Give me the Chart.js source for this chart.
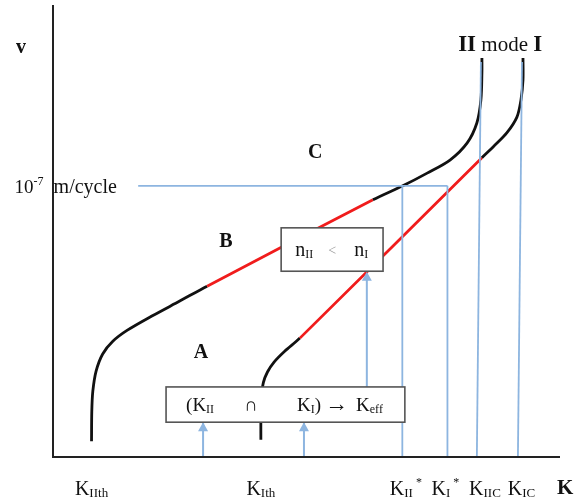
<!DOCTYPE html>
<html>
<head>
<meta charset="utf-8">
<script src="https://cdn.jsdelivr.net/npm/chart.js@4.4.1/dist/chart.umd.min.js"></script>
<style>
  body { margin: 0; background: #fff; }
  #chart { display: block; }
</style>
</head>
<body>
<canvas id="chart" width="578" height="501"></canvas>
<script>
// ---------- DATA (K on x, log v on y, arbitrary 0..100 units) ----------
const modeIIThreshold = [[7.6,3.5],[7.65,10],[7.85,14.5],[8.5,19],[9.8,22.8],[11.8,25.6],[14.6,28],[19.7,31.3],[25,34.5]];
const modeIIParis = [[30.4,37.8],[63.1,56.9]];
const modeIIUnstable = [[69,60],[73.8,62.8],[78.3,65.7],[81.7,69.5],[83.6,73.9],[84.4,79],[84.6,85],[84.6,88.3]];

const modeIThreshold = [[41,3.8],[41,8],[41.1,13],[41.5,16.5],[42.3,18.8],[43.6,21],[45.7,23.4]];
const modeIParis = [[48.7,26.3],[84.6,66.2]];
const modeIUnstable = [[86.8,68.6],[89.5,71.7],[91.5,75.2],[92.3,79],[92.7,83.4],[92.7,88.3]];

const vRef = 60;                       // 10^-7 m/cycle
const kStarII = 68.9, kStarI = 77.8;
const kIIC = [[83.6,0],[84.4,87.4]];
const kIC = [[91.7,0],[92.5,87.4]];

const tickLabels = [
  { x: 7.6,  sub: "IIth", sup: "" },
  { x: 41.0, sub: "Ith",  sup: "" },
  { x: 69.6, sub: "II",   sup: "*" },
  { x: 77.4, sub: "I",    sup: "*" },
  { x: 85.2, sub: "IIC",  sup: "" },
  { x: 92.4, sub: "IC",   sup: "" }
];

const arrows = [
  [[29.6,0],[29.6,7.7]],
  [[49.5,0],[49.5,7.7]],
  [[61.9,15.5],[61.9,41]]
];

const boxA = { x0: 22.3, x1: 69.4, y0: 7.7, y1: 15.5 };
const boxN = { x0: 45.0, x1: 65.1, y0: 41.1, y1: 50.7 };

// ---------- HELPERS ----------
const toPts = arr => arr.map(p => ({ x: p[0], y: p[1] }));
const BLACK = "#111111", RED = "#f01c1c", BLUE = "#8db5e0";
const SERIF = "'Liberation Serif', 'Times New Roman', serif";

function line(data, color, width, extra) {
  return Object.assign({
    data: toPts(data),
    showLine: true,
    borderColor: color,
    borderWidth: width,
    pointRadius: 0,
    tension: 0,
    fill: false
  }, extra || {});
}

// one smooth curve per mode, the Paris part coloured red
function modeCurve(threshold, paris, unstable) {
  const redFrom = threshold.length, redTo = threshold.length + paris.length - 1;
  const pts = threshold.concat(paris, unstable);
  return line(pts, BLACK, 2.8, {
    tension: 0.3,
    borderJoinStyle: "round",
    segment: {
      borderColor: c => (c.p0DataIndex >= redFrom && c.p1DataIndex <= redTo) ? RED : BLACK
    }
  });
}

const datasets = [
  line([[16.8, vRef],[kStarI, vRef]], BLUE, 1.8),
  line([[kStarII, 0],[kStarII, vRef]], BLUE, 1.8),
  line([[kStarI, 0],[kStarI, vRef]], BLUE, 1.8),
  line(kIIC, BLUE, 1.8),
  line(kIC, BLUE, 1.8),
  modeCurve(modeIIThreshold, modeIIParis, modeIIUnstable),
  modeCurve(modeIThreshold, modeIParis, modeIUnstable)
];
arrows.forEach(a => datasets.push(line(a, BLUE, 2, { arrow: true })));

// draws a run of text pieces; each piece {t, size, bold, dy, color}
function drawParts(ctx, x, y, parts, align) {
  let w = 0;
  parts.forEach(p => {
    ctx.font = (p.bold ? "bold " : "") + p.size + "px " + SERIF;
    p.w = ctx.measureText(p.t).width;
    w += p.w;
  });
  let cx = align === "center" ? x - w / 2 : align === "right" ? x - w : x;
  parts.forEach(p => {
    ctx.font = (p.bold ? "bold " : "") + p.size + "px " + SERIF;
    ctx.fillStyle = p.color || "#111";
    ctx.fillText(p.t, cx, y + (p.dy || 0));
    cx += p.w;
  });
}

const diagramPlugin = {
  id: "diagram",
  afterDatasetsDraw(chart) {
    const ctx = chart.ctx, a = chart.chartArea;
    const xs = chart.scales.x, ys = chart.scales.y;
    const X = v => xs.getPixelForValue(v), Y = v => ys.getPixelForValue(v);
    ctx.save();
    ctx.textBaseline = "alphabetic";

    // axes
    ctx.strokeStyle = "#222";
    ctx.lineWidth = 2;
    ctx.beginPath();
    ctx.moveTo(a.left, a.top);
    ctx.lineTo(a.left, a.bottom);
    ctx.lineTo(a.right, a.bottom);
    ctx.stroke();

    // arrow heads
    chart.data.datasets.forEach((ds, i) => {
      if (!ds.arrow) return;
      const pts = chart.getDatasetMeta(i).data;
      const tip = pts[pts.length - 1];
      ctx.fillStyle = BLUE;
      ctx.beginPath();
      ctx.moveTo(tip.x, tip.y);
      ctx.lineTo(tip.x - 5, tip.y + 9);
      ctx.lineTo(tip.x + 5, tip.y + 9);
      ctx.closePath();
      ctx.fill();
    });

    // boxes
    [boxA, boxN].forEach(b => {
      const x0 = X(b.x0), x1 = X(b.x1), y0 = Y(b.y1), y1 = Y(b.y0);
      ctx.fillStyle = "#fff";
      ctx.fillRect(x0, y0, x1 - x0, y1 - y0);
      ctx.strokeStyle = "#555";
      ctx.lineWidth = 1.6;
      ctx.strokeRect(x0, y0, x1 - x0, y1 - y0);
    });

    // box A text
    let bx = X(boxA.x0), by = (Y(boxA.y0) + Y(boxA.y1)) / 2 + 6;
    drawParts(ctx, bx + 20, by, [{ t: "(K", size: 19 }, { t: "II", size: 12, dy: 2 }]);
    drawParts(ctx, bx + 78, by, [{ t: "∩", size: 19 }]);
    drawParts(ctx, bx + 131, by, [{ t: "K", size: 19 }, { t: "I", size: 12, dy: 2 }, { t: ")", size: 19 }]);
    drawParts(ctx, bx + 159, by, [{ t: "→", size: 23 }]);
    drawParts(ctx, bx + 190, by, [{ t: "K", size: 19 }, { t: "eff", size: 12, dy: 2 }]);

    // box n text
    bx = X(boxN.x0); by = (Y(boxN.y0) + Y(boxN.y1)) / 2 + 6;
    drawParts(ctx, bx + 14, by, [{ t: "n", size: 20 }, { t: "II", size: 12, dy: 2 }]);
    drawParts(ctx, bx + 47, by - 1, [{ t: "<", size: 14, color: "#999" }]);
    drawParts(ctx, bx + 73, by, [{ t: "n", size: 20 }, { t: "I", size: 12, dy: 2 }]);

    // region and axis letters
    drawParts(ctx, X(-6.3), Y(90.7) + 6, [{ t: "v", size: 20, bold: true }], "center");
    drawParts(ctx, X(51.7), Y(67.7) + 7, [{ t: "C", size: 20, bold: true }], "center");
    drawParts(ctx, X(34.1), Y(48.0) + 7, [{ t: "B", size: 20, bold: true }], "center");
    drawParts(ctx, X(29.2), Y(23.5) + 7, [{ t: "A", size: 20, bold: true }], "center");
    drawParts(ctx, X(101), a.bottom + 37, [{ t: "K", size: 21, bold: true }], "center");
    drawParts(ctx, X(88.2), Y(91.6) + 8, [
      { t: "II", size: 23, bold: true }, { t: " mode ", size: 21 }, { t: "I", size: 23, bold: true }
    ], "center");

    // v reference label
    drawParts(ctx, X(12.6), Y(vRef) + 7, [
      { t: "10", size: 19 }, { t: "-7", size: 12, dy: -8 }, { t: "  m/cycle", size: 20 }
    ], "right");

    // K tick labels
    tickLabels.forEach(tl => {
      const parts = [{ t: "K", size: 20 }, { t: tl.sub, size: 13, dy: 2 }];
      if (tl.sup) parts.push({ t: " " + tl.sup, size: 12, dy: -9 });
      drawParts(ctx, X(tl.x), a.bottom + 38, parts, "center");
    });

    ctx.restore();
  }
};

// ---------- CHART ----------
new Chart(document.getElementById("chart").getContext("2d"), {
  type: "scatter",
  data: { datasets },
  options: {
    responsive: false,
    animation: false,
    layout: { padding: { left: 53, right: 18, top: 5, bottom: 44 } },
    scales: {
      x: { type: "linear", min: 0, max: 100, display: false },
      y: { type: "linear", min: 0, max: 100, display: false }
    },
    plugins: { legend: { display: false }, tooltip: { enabled: false } }
  },
  plugins: [diagramPlugin]
});
</script>
</body>
</html>
